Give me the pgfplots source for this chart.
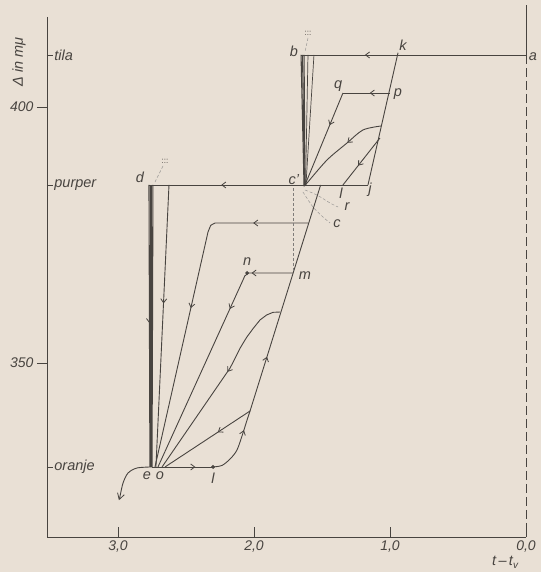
\documentclass[border=0pt]{standalone}
\usepackage{fontspec}
\setmainfont{Liberation Sans}
\usepackage{pgfplots}
\pgfplotsset{compat=1.18}
\usetikzlibrary{decorations.markings,arrows.meta}
\definecolor{paper}{RGB}{233,224,213}
\definecolor{ink}{RGB}{72,68,64}
\tikzset{
  arr/.style={postaction={decorate},decoration={markings,mark=at position #1 with {\arrow{Straight Barb[length=4pt,width=6pt,line width=0.8pt]}}}},
  arrtwo/.style 2 args={postaction={decorate},decoration={markings,
     mark=at position #1 with {\arrow{Straight Barb[length=4pt,width=6pt,line width=0.8pt]}},
     mark=at position #2 with {\arrow{Straight Barb[length=4pt,width=6pt,line width=0.8pt]}}}},
}
\begin{document}
\begin{tikzpicture}[font=\itshape\fontsize{14.5}{16}\selectfont]
\useasboundingbox (-47pt,-35pt) rectangle (494pt,537pt);
\fill[paper] (-47pt,-35pt) rectangle (494pt,537pt);
\begin{axis}[
  at={(0pt,0pt)}, anchor=south west,
  scale only axis, width=479pt, height=520pt,
  x dir=reverse, xmin=0, xmax=3.522, ymin=316.02, ymax=417.58,
  clip=false,
  axis line style={draw=none},
  xtick={0,1,2,3}, xticklabels={{0,0},{1,0},{2,0},{3,0}},
  ytick={350,400},
  xtick pos=bottom, ytick pos=left,
  xtick align=inside, ytick align=outside,
  major tick length=10pt,
  tick style={ink, line width=0.8pt},
  tick label style={font=\itshape\fontsize{14}{16}\selectfont, text=ink},
  /pgf/number format/assume math mode=true,
  every axis plot/.append style={ink, line width=0.9pt, mark=none},
]
% spines
\draw[ink, line width=0.9pt] (axis cs:3.522,417.58) -- (axis cs:3.522,316.02) -- (axis cs:0,316.02);
\draw[ink, line width=0.9pt] (axis cs:0,419.9) -- (axis cs:0,410.16);
\draw[ink, line width=0.8pt, dash pattern=on 9pt off 4pt] (axis cs:0,410.16) -- (axis cs:0,316.02);

% a -> b (tila level)
\addplot[arr=0.716] coordinates {(0,410.16) (1.654,410.16)};
% k - j
\addplot[ink] coordinates {(0.941,410.6) (1.162,384.77)};
% p -> q
\addplot[arr=0.43] coordinates {(1.0,402.73) (1.346,402.73)};
% q -> c'
\addplot[arr=0.35] coordinates {(1.346,402.73) (1.625,384.77)};
% curve -> c'
\addplot[arr=0.39, smooth] coordinates {(1.066,396.29) (1.199,395.51) (1.316,392.97) (1.463,389.65) (1.610,385.16) (1.625,384.77)};
% line -> l
\addplot[arr=0.59] coordinates {(1.074,393.95) (1.346,384.77)};
% b cluster
\addplot[line width=1.1pt] coordinates {(1.654,410.16) (1.632,384.77)};
\addplot[line width=1.1pt] coordinates {(1.643,410.16) (1.629,384.77)};
\addplot[line width=1.1pt] coordinates {(1.632,410.16) (1.625,384.77)};
\addplot[line width=0.7pt] coordinates {(1.603,410.16) (1.621,384.77)};
\addplot[line width=0.7pt] coordinates {(1.559,410.16) (1.618,384.77)};
% purper j -> d
\addplot[arr=0.67] coordinates {(1.162,384.77) (2.772,384.77)};
% d cluster
\addplot[line width=1.1pt, arr=0.49] coordinates {(2.772,384.77) (2.765,329.7)};
\addplot[line width=1.1pt] coordinates {(2.757,384.77) (2.757,329.7)};
\addplot[line width=1.1pt] coordinates {(2.743,384.77) (2.750,329.7)};
\addplot[arr=0.42] coordinates {(2.625,384.77) (2.721,329.7)};
% e -> l (oranje level)
\addplot[arr=0.71] coordinates {(2.750,329.7) (2.301,329.7)};
% curve up to slanted line
\addplot[arr=0.72, smooth] coordinates {(2.301,329.7) (2.235,330.0) (2.176,331.25) (2.125,333.01) (2.081,336.33) (2.051,338.87) (2.029,340.63)};
% slanted line up to purper
\addplot[arr=0.24] coordinates {(2.029,340.63) (1.510,384.77)};
% hook to the left
\addplot[-{Straight Barb[length=6pt,width=7pt,line width=0.8pt]}, smooth] coordinates {(2.750,329.7) (2.860,329.5) (2.926,328.52) (2.963,326.56) (2.985,324.0) (2.993,323.2)};
% horizontal at 377 -> e
\addplot[arrtwo={0.16}{0.53}] coordinates {(1.598,377.34) (2.287,377.34) (2.318,376.9) (2.338,375.6) (2.728,329.7)};
% m -> n -> e
\addplot[arrtwo={0.16}{0.33}] coordinates {(1.713,367.58) (2.040,367.58) (2.068,367.0) (2.081,366.2) (2.706,329.7)};
% curve from slanted line -> e
\addplot[arr=0.42] coordinates {(1.809,359.96) (1.860,359.9) (1.907,359.38) (1.956,358.40) (2.005,356.78) (2.054,355.02) (2.103,352.87) (2.152,350.25) (2.176,349.02) (2.676,329.7)};
% line from slanted line -> e
\addplot[arr=0.38] coordinates {(2.029,340.63) (2.654,329.7)};
% dashed vertical c' - m
\addplot[ink!70, densely dashed, line width=0.6pt] coordinates {(1.713,384.18) (1.713,367.58)};
% dashed arcs r, c
\addplot[ink!55, densely dashed, line width=0.5pt, smooth] coordinates {(1.625,383.79) (1.537,382.81) (1.441,381.25) (1.382,380.47)};
\addplot[ink!55, densely dashed, line width=0.5pt, smooth] coordinates {(1.640,383.40) (1.566,380.47) (1.493,378.52) (1.440,377.34)};
% small dashed marks near :::
\addplot[ink!55, densely dashed, line width=0.5pt] coordinates {(1.603,413.48) (1.625,410.74)};
\addplot[ink!55, densely dashed, line width=0.5pt] coordinates {(2.669,388.48) (2.728,385.35)};
% dots
\addplot[only marks, mark=*, mark size=1.4pt, ink] coordinates {(2.301,329.7) (2.051,367.58)};

% level labels
\draw[ink, line width=0.8pt] (axis cs:3.522,410.16) -- ++(6pt,0pt) node[right, inner sep=1pt, text=ink] {tila};
\draw[ink, line width=0.8pt] (axis cs:3.522,384.77) -- ++(6pt,0pt) node[right, inner sep=1pt, text=ink] {purper};
\draw[ink, line width=0.8pt] (axis cs:3.522,329.7) -- ++(6pt,0pt) node[right, inner sep=1pt, text=ink] {oranje};

% point labels
\node[text=ink] at (axis cs:-0.051,409.77) {a};
\node[text=ink] at (axis cs:0.904,412.11) {k};
\node[text=ink] at (axis cs:1.706,410.94) {b};
\node[text=ink, font=\fontsize{8}{8}\selectfont] at (axis cs:1.603,414.45) {:::};
\node[text=ink] at (axis cs:1.382,404.10) {q};
\node[text=ink] at (axis cs:0.941,402.54) {p};
\node[text=ink] at (axis cs:1.706,385.74) {c'};
\node[text=ink] at (axis cs:1.147,383.79) {j};
\node[text=ink] at (axis cs:1.360,383.20) {l};
\node[text=ink] at (axis cs:1.316,380.47) {r};
\node[text=ink] at (axis cs:1.390,377.15) {c};
\node[text=ink] at (axis cs:2.838,386.33) {d};
\node[text=ink, font=\fontsize{8}{8}\selectfont] at (axis cs:2.654,389.45) {:::};
\node[text=ink] at (axis cs:2.051,369.73) {n};
\node[text=ink] at (axis cs:1.625,366.99) {m};
\node[text=ink] at (axis cs:2.787,327.93) {e};
\node[text=ink] at (axis cs:2.691,327.93) {o};
\node[text=ink] at (axis cs:2.301,327.54) {l};

% axis labels
\node[text=ink, rotate=90] at (axis cs:3.728,408.79) {Δ in mμ};
\node[text=ink] at (axis cs:0.154,311.13) {t\,–\,t\raisebox{-0.4ex}{\fontsize{10}{10}\selectfont v}};
\end{axis}
\end{tikzpicture}
\end{document}
